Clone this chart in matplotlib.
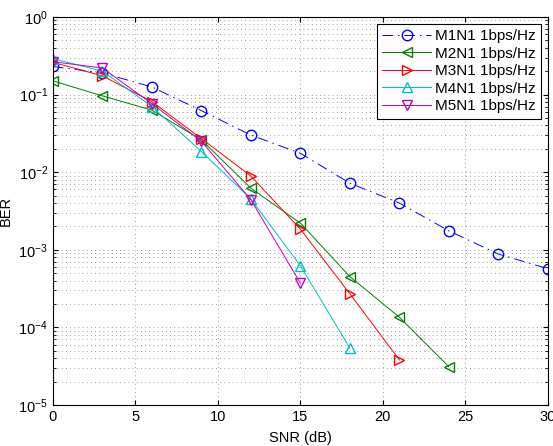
import numpy as np
from matplotlib import pyplot as plt

plt.rcParams['font.family'] = ['Liberation Sans', 'DejaVu Sans']

snr1 = [0, 3, 6, 9, 12, 15, 18, 21, 24, 27, 30]
ber1 = [0.23, 0.19, 0.125, 0.062, 0.030, 0.0175, 0.0072, 0.0040, 0.00175, 0.00088, 0.00057]

snr2 = [0, 3, 6, 9, 12, 15, 18, 21, 24]
ber2 = [0.15, 0.096, 0.063, 0.026, 0.0062, 0.0022, 0.00045, 0.000135, 3.1e-5]

snr3 = [0, 3, 6, 9, 12, 15, 18, 21]
ber3 = [0.26, 0.174, 0.081, 0.027, 0.0089, 0.00184, 0.00027, 3.8e-5]

snr4 = [0, 3, 6, 9, 12, 15, 18]
ber4 = [0.29, 0.20, 0.07, 0.0184, 0.0045, 0.00062, 5.4e-5]

snr5 = [0, 3, 6, 9, 12, 15]
ber5 = [0.265, 0.22, 0.076, 0.025, 0.0044, 0.00037]

labels = ['M1N1 1bps/Hz', 'M2N1 1bps/Hz', 'M3N1 1bps/Hz', 'M4N1 1bps/Hz', 'M5N1 1bps/Hz']

fig = plt.figure(figsize=(5.53, 4.46), dpi=100)
ax = fig.add_axes([0.0958, 0.092, 0.895, 0.870])

ms = 7.5
lw = 0.7
ax.semilogy(snr1, ber1, color='b', linestyle='-.', marker='o', mfc='none', ms=ms, lw=lw, dashes=(11, 5, 1.5, 5), label=labels[0])
ax.semilogy(snr2, ber2, color=(0, 0.5, 0), marker='<', mfc='none', ms=ms, lw=lw, label=labels[1])
ax.semilogy(snr3, ber3, color='r', marker='>', mfc='none', ms=ms, lw=lw, label=labels[2])
ax.semilogy(snr4, ber4, color=(0, 0.75, 0.75), marker='^', mfc='none', ms=ms, lw=lw, label=labels[3])
ax.semilogy(snr5, ber5, color=(0.75, 0, 0.75), marker='v', mfc='none', ms=ms, lw=lw, label=labels[4])

ax.set_xlim(0, 30)
ax.set_ylim(1e-5, 1)
ax.set_xticks([0, 5, 10, 15, 20, 25, 30])
ax.grid(True, which='major', linestyle=(0, (1, 4)), color='0.5', lw=0.6)
ax.grid(True, which='minor', axis='y', linestyle=(0, (1, 4)), color='0.5', lw=0.6)
ax.tick_params(which='both', direction='in', top=True, right=True, labelsize=10.5)
ax.set_xlabel('SNR (dB)', fontsize=10.5, labelpad=5)
ax.set_ylabel('BER', fontsize=10.5, labelpad=4)

leg = ax.legend(loc='upper right', fontsize=11, fancybox=False, framealpha=1, edgecolor='k',
                handlelength=3.2, handletextpad=0.25, borderpad=0.35, labelspacing=0.23,
                borderaxespad=0.45)
leg.get_frame().set_linewidth(0.8)

fig.savefig('out.png', dpi=100)
